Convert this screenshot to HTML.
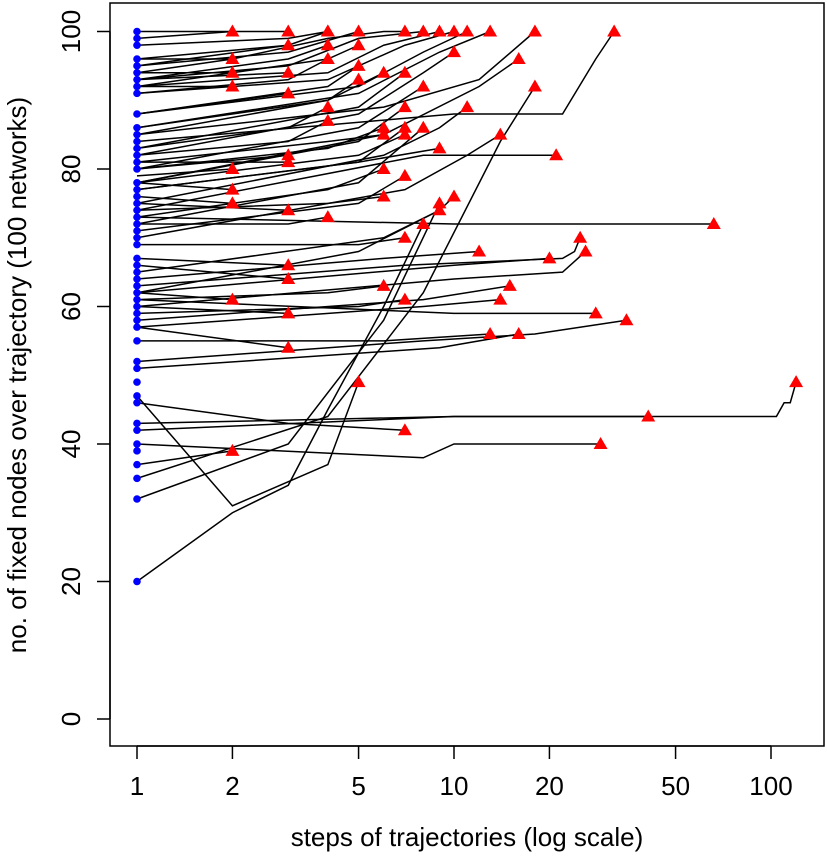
<!DOCTYPE html>
<html><head><meta charset="utf-8"><style>
body{margin:0;background:#fff}
text{font-family:"Liberation Sans",Arial,sans-serif;fill:#000}
</style></head><body>
<svg id="chart" width="827" height="857" xmlns="http://www.w3.org/2000/svg"></svg>
<script>
// Tick labels
const xTicks = [1, 2, 5, 10, 20, 50, 100];
const yTicks = [0, 20, 40, 60, 80, 100];
// Trajectories: [step, fixed-node count] knots (approximate readings)
const trajectories = [
[[1,100],[2,100]],[[1,99],[2,100],[3,100]],[[1,98],[3,99],[4,100]],[[1,96],[3,98],[4,100]],
[[1,95],[3,97],[5,100]],[[1,94],[2,96],[4,99],[6,100],[7,100]],[[1,93],[3,95],[5,99],[8,100]],
[[1,92],[4,94],[6,98],[9,100]],[[1,91],[4,93],[7,98],[10,100]],[[1,88],[5,92],[8,97],[11,100]],
[[1,86],[5,91],[9,97],[13,100]],[[1,85],[6,89],[12,93],[18,100]],[[1,84],[10,88],[22,88],[28,96],[32,100]],
[[1,96],[2,96]],[[1,95],[3,98]],[[1,93],[3,96],[4,98]],[[1,92],[4,96],[5,98]],[[1,82],[5,88],[8,94],[10,97]],
[[1,78],[6,85],[12,92],[16,96]],[[1,94],[2,94]],[[1,93],[3,94]],[[1,91],[3,93],[4,96]],[[1,88],[4,92],[5,95]],
[[1,85],[4,90],[6,94]],[[1,83],[5,89],[7,94]],[[1,92],[2,92]],[[1,88],[3,91]],[[1,86],[4,90],[5,93]],
[[1,80],[5,86],[8,92]],[[1,83],[3,86],[4,89]],[[1,78],[5,84],[7,89]],[[1,75],[6,82],[9,86],[11,89]],
[[1,82],[3,84],[4,87]],[[1,80],[4,83],[6,86]],[[1,77],[5,81],[7,86]],[[1,72],[5,78],[8,86]],
[[1,81],[4,84],[6,85]],[[1,78],[5,82],[7,85]],[[1,70],[7,77],[11,82],[14,85]],[[1,77],[5,81],[9,83]],
[[1,80],[3,82]],[[1,81],[3,81]],[[1,74],[8,82],[21,82]],[[1,79],[2,80]],[[1,73],[4,77],[6,80]],
[[1,71],[5,75],[7,79]],[[1,78],[2,77]],[[1,76],[2,75]],[[1,75],[3,74]],[[1,72],[3,72],[4,73]],
[[1,74],[4,75],[6,76]],[[1,62],[5,68],[9,74],[10,76]],[[1,65],[6,70],[9,74]],[[1,73],[10,72],[66,72]],
[[1,69],[5,69],[7,70]],[[1,63],[7,66],[22,67],[24,68],[25,70]],[[1,60],[10,64],[22,65],[26,68]],
[[1,64],[6,67],[12,68]],[[1,62],[10,66],[20,67]],[[1,67],[3,66]],[[1,66],[3,64]],[[1,61],[4,62],[6,63]],
[[1,58],[8,61],[15,63]],[[1,62],[2,61]],[[1,59],[5,60],[7,61]],[[1,57],[8,60],[14,61]],[[1,60],[3,59]],
[[1,61],[10,59],[28,59]],[[1,52],[8,55],[18,56],[35,58]],[[1,55],[6,55],[13,56]],[[1,51],[9,54],[16,56]],
[[1,57],[3,54]],[[1,47],[2,31],[4,37],[5,49]],[[1,43],[10,44],[104,44],[110,46],[115,46],[120,49]],
[[1,42],[10,44],[41,44]],[[1,46],[3,43],[7,42]],[[1,40],[8,38],[10,40],[29,40]],[[1,37],[2,39]],
[[1,20],[2,30],[3,34],[4,45],[6,60],[8,72]],[[1,32],[3,40],[6,58],[9,75]],[[1,35],[4,44],[8,62],[14,84],[18,92]]
];
const starts = [100,99,98,96,95,94,93,92,91,88,86,85,84,83,82,81,80,78,77,76,75,74,73,72,71,70,69,67,66,65,64,63,62,61,60,59,58,57,55,52,51,49,47,46,43,42,40,39,37,35,32,20];

const NS="http://www.w3.org/2000/svg";
const svg=document.getElementById('chart');
const L=110,R=824,T=3,B=746;
const xs=v=>137+317*Math.log10(v);
const ys=v=>719-6.875*v;
function mk(t,a){const e=document.createElementNS(NS,t);for(const k in a)e.setAttribute(k,a[k]);svg.appendChild(e);return e;}

const frame=mk('rect',{x:L,y:T,width:R-L,height:B-T,fill:'none',stroke:'#000','stroke-width':1.5});



const xa=mk('line',{x1:xs(1),x2:xs(100),y1:B,y2:B,stroke:'#000','stroke-width':1.5});


xTicks.forEach(v=>{
  const t=mk('line',{x1:xs(v),x2:xs(v),y1:B,y2:B+13,stroke:'#000','stroke-width':1.5});
  
  
  const l=mk('text',{x:xs(v),y:795,'font-size':26,'text-anchor':'middle'});l.textContent=v;
  
  
});
const ya=mk('line',{x1:L,x2:L,y1:ys(0),y2:ys(100),stroke:'#000','stroke-width':1.5});


yTicks.forEach(v=>{
  const t=mk('line',{x1:L-13,x2:L,y1:ys(v),y2:ys(v),stroke:'#000','stroke-width':1.5});
  
  
  const l=mk('text',{x:0,y:0,'font-size':26,'text-anchor':'middle',transform:`translate(80,${ys(v)}) rotate(-90)`});l.textContent=v;
  
  
});
const xt=mk('text',{x:467,y:846,'font-size':26,'text-anchor':'middle'});xt.textContent='steps of trajectories (log scale)';


const yt=mk('text',{x:0,y:0,'font-size':26,'text-anchor':'middle',transform:'translate(26,375) rotate(-90)'});yt.textContent='no. of fixed nodes over trajectory (100 networks)';



trajectories.forEach(tr=>{
  const p=mk('polyline',{points:tr.map(d=>xs(d[0])+','+ys(d[1])).join(' '),fill:'none',stroke:'#000','stroke-width':1.5});
  
  
});
starts.forEach(v=>{
  const c=mk('circle',{cx:xs(1),cy:ys(v),r:3.8,fill:'#0000ff'});
  
  
});
trajectories.forEach(tr=>{
  const d=tr[tr.length-1];const x=xs(d[0]),y=ys(d[1]);
  const m=mk('polygon',{points:`${x},${y-7} ${x-7},${y+5} ${x+7},${y+5}`,fill:'#ff0000'});
  
  
});
</script>
</body></html>
